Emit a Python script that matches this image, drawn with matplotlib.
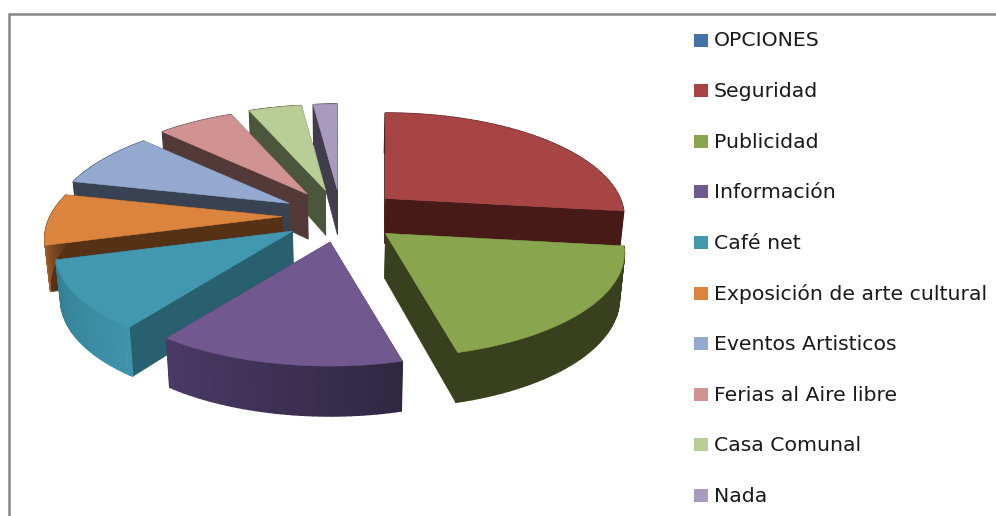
import numpy as np
import matplotlib
matplotlib.use("Agg")
import matplotlib.pyplot as plt
from matplotlib.patches import Polygon, Rectangle
from matplotlib.colors import to_rgb

# Data
categories = ["OPCIONES", "Seguridad", "Publicidad", "Información", "Café net",
              "Exposición de arte cultural", "Eventos Artisticos",
              "Ferias al Aire libre", "Casa Comunal", "Nada"]
values = [0, 26.8, 18.9, 14.0, 10.6, 7.9, 8.6, 6.3, 4.4, 2.0]

# Styles
top_colors = ["#4572A7", "#A74545", "#89A54E", "#71588F", "#4198AF",
              "#DB843D", "#93A9CF", "#D19392", "#B9CD96", "#A99BBD"]
radial_colors = ["#2A4565", "#471A18", "#38401E", "#43345A", "#29606F",
                 "#553116", "#394253", "#533A39", "#4C563A", "#423D4C"]
rim_start = ["#2A4565", "#471A18", "#38401E", "#302842", "#3F93AB",
             "#A8652C", "#394253", "#533A39", "#4C563A", "#423D4C"]
rim_end = ["#2A4565", "#471A18", "#38401E", "#4A3A66", "#338095",
           "#553116", "#394253", "#533A39", "#4C563A", "#423D4C"]
draw_order = [1, 9, 8, 7, 6, 5, 4, 3, 2]

# Projection of the tilted pie, in pixels of the figure
CX, CY = 341, 216
AX_RIGHT, AX_LEFT, AX_SKEW, BY, KP = 235, 232, 6, 101.2, 0.184
EX, EY = 59, 26.5


def project(X, Y):
    X, Y = np.asarray(X), np.asarray(Y)
    w = 1 - KP * Y
    return np.where(X > 0, AX_RIGHT, AX_LEFT + AX_SKEW * Y) * X / w, BY * Y / w


def depth(Y):
    return 45 + 5 * np.asarray(Y)


def lower(x, y, Y):
    return CX + (x - CX) * 0.982, y + depth(Y)


fig = plt.figure(figsize=(9.96, 5.16), dpi=100)
ax = fig.add_axes([0, 0, 1, 1])
ax.set_xlim(0, 996)
ax.set_ylim(516, 0)
ax.axis("off")

# Chart frame (cropped at right and bottom)
ax.plot([9, 9, 996], [516, 14, 14], color="#868686", lw=1.8, solid_joinstyle="miter")

total = sum(values)
edges = np.cumsum([0] + values) / total * 2 * np.pi

for i in draw_order:
    t0, t1 = edges[i], edges[i + 1]
    mid = (t0 + t1) / 2
    ax0 = CX + EX * np.sin(mid)
    ay0 = CY - EY * np.cos(mid)
    t = np.linspace(t0, t1, 40)
    X, Y = np.sin(t), -np.cos(t)
    px, py = project(X, Y)
    rx, ry = ax0 + px, ay0 + py
    bx, by = lower(rx, ry, Y)
    abx, aby = lower(ax0, ay0, 0.0)
    # radial walls
    for k in (0, -1):
        ax.add_patch(Polygon([(ax0, ay0), (rx[k], ry[k]), (bx[k], by[k]), (abx, aby)],
                             fc=radial_colors[i], ec=radial_colors[i], lw=0.4))
    # outer wall with shading strips
    c0, c1 = np.array(to_rgb(rim_start[i])), np.array(to_rgb(rim_end[i]))
    for k in range(len(t) - 1):
        f = k / (len(t) - 2)
        col = c0 * (1 - f) + c1 * f
        ax.add_patch(Polygon([(rx[k], ry[k]), (rx[k + 1], ry[k + 1]),
                              (bx[k + 1], by[k + 1]), (bx[k], by[k])],
                             fc=col, ec=col, lw=1.0))
    # top face
    ax.add_patch(Polygon(list(zip(np.r_[ax0, rx], np.r_[ay0, ry])),
                         fc=top_colors[i], ec=top_colors[i], lw=0.4))

# Legend
for n, (name, col) in enumerate(zip(categories, top_colors)):
    yc = 40 + n * 50.6
    ax.add_patch(Rectangle((694, yc - 6.5), 14, 13, fc=col, ec="none"))
    ax.text(714, yc + 1, name, fontsize=14.7, family="DejaVu Sans", color="#1a1a1a",
            va="center", ha="left")

fig.savefig("out.png", dpi=100)
